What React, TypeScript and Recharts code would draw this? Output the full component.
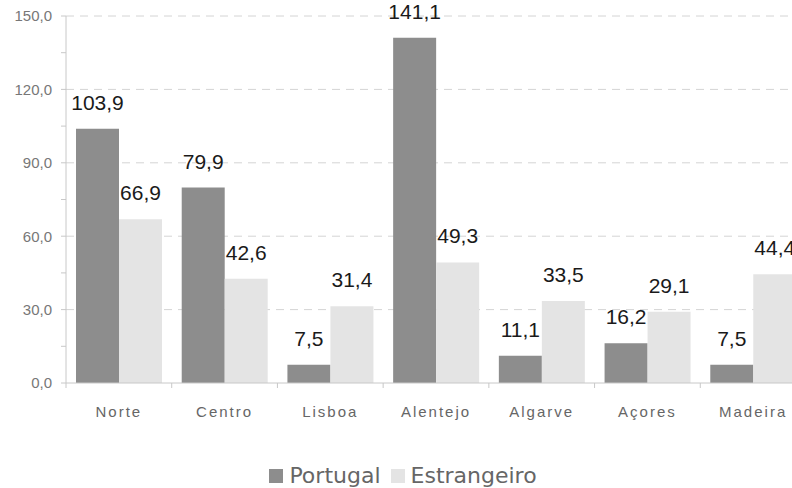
import { Bar, BarChart, CartesianGrid, LabelList, Legend, XAxis, YAxis } from "recharts";

const regions = ["Norte", "Centro", "Lisboa", "Alentejo", "Algarve", "Açores", "Madeira"];
const portugal = [103.9, 79.9, 7.5, 141.1, 11.1, 16.2, 7.5];
const estrangeiro = [66.9, 42.6, 31.4, 49.3, 33.5, 29.1, 44.4];
const yTicks = [0, 15, 30, 45, 60, 75, 90, 105, 120, 135, 150];
const gridValues = [30, 60, 90, 120, 150];

const data = regions.map((name, i) => ({
  name,
  portugal: portugal[i],
  estrangeiro: estrangeiro[i],
}));

const DARK = "#8d8d8d";
const LIGHT = "#e4e4e4";
const fmt = (v: number) => v.toFixed(1).replace(".", ",");

function RegionTick(props: any) {
  const { x, y, payload } = props;
  const half = payload && payload.offset ? payload.offset : 0;
  return (
    <g>
      <line x1={x - half} x2={x - half} y1={y - 5} y2={y} stroke="#c8c8c8" />
      <text
        x={x}
        y={y}
        dy={29}
        textAnchor="middle"
        fill="#666"
        fontSize={15}
        letterSpacing={2}
        fontFamily="Liberation Sans, Arial, sans-serif"
      >
        {payload.value}
      </text>
    </g>
  );
}

function LegendBox() {
  const items = [
    { label: "Portugal", color: DARK },
    { label: "Estrangeiro", color: LIGHT },
  ];
  return (
    <div
      style={{
        display: "flex",
        justifyContent: "center",
        alignItems: "center",
        gap: 10,
        marginTop: 5,
        fontFamily: "DejaVu Sans, sans-serif",
        fontSize: 22,
        color: "#666",
      }}
    >
      {items.map((it) => (
        <span key={it.label} style={{ display: "flex", alignItems: "center", gap: 6 }}>
          <span style={{ width: 14, height: 14, background: it.color, display: "inline-block" }} />
          {it.label}
        </span>
      ))}
    </div>
  );
}

export default function App() {
  return (
    <div style={{ position: "absolute", left: 0, top: 0, width: 792, height: 488, overflow: "hidden", background: "#fff" }}>
      <BarChart
        width={816}
        height={488}
        data={data}
        margin={{ top: 16, right: 10, left: 0, bottom: 0 }}
        barCategoryGap={10}
        barGap={0}
      >
        <CartesianGrid
          vertical={false}
          horizontalValues={gridValues}
          stroke="#d4d4d4"
          strokeDasharray="8 6"
        />
        <XAxis
          dataKey="name"
          height={75}
          axisLine={{ stroke: "#c8c8c8" }}
          tickLine={false}
          tickSize={5}
          tickMargin={0}
          interval={0}
          tick={<RegionTick />}
        />
        <YAxis
          width={66}
          domain={[0, 150]}
          ticks={yTicks}
          interval={0}
          tickFormatter={(v: number) => (v % 30 === 0 ? fmt(v) : "")}
          axisLine={{ stroke: "#c8c8c8" }}
          tickLine={{ stroke: "#c8c8c8" }}
          tickSize={5}
          tickMargin={9}
          tick={{ fill: "#777", fontSize: 15, fontFamily: "Liberation Sans, Arial, sans-serif" }}
        />
        <Legend verticalAlign="bottom" height={30} content={<LegendBox />} />
        <Bar dataKey="portugal" name="Portugal" fill={DARK} isAnimationActive={false}>
          <LabelList
            dataKey="portugal"
            position="top"
            offset={19}
            formatter={(v: any) => fmt(Number(v))}
            fill="#1a1a1a"
            fontSize={21}
            fontFamily="Liberation Sans, Arial, sans-serif"
          />
        </Bar>
        <Bar dataKey="estrangeiro" name="Estrangeiro" fill={LIGHT} isAnimationActive={false}>
          <LabelList
            dataKey="estrangeiro"
            position="top"
            offset={19}
            formatter={(v: any) => fmt(Number(v))}
            fill="#1a1a1a"
            fontSize={21}
            fontFamily="Liberation Sans, Arial, sans-serif"
          />
        </Bar>
      </BarChart>
    </div>
  );
}
